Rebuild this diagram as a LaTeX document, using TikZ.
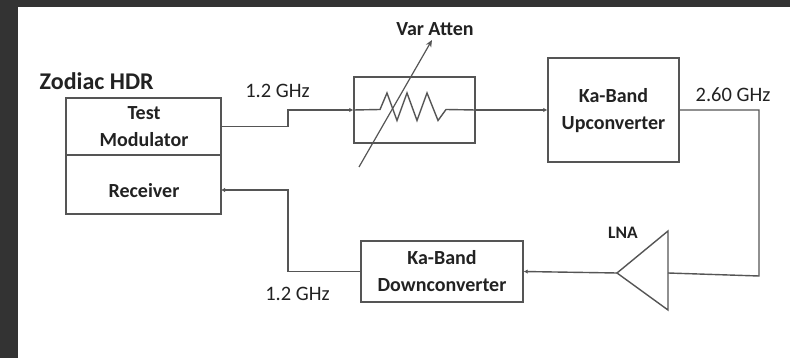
\documentclass[tikz,border=0pt]{standalone}
\usepackage{fontspec}
\setmainfont{Carlito}
\usetikzlibrary{arrows.meta}
\definecolor{frame}{HTML}{333333}
\definecolor{ln}{HTML}{555555}
\definecolor{tx}{HTML}{222222}
\tikzset{
  x=1pt,y=-1pt,
  blockbox/.style={draw=ln,line width=1.4pt,minimum width=#1,inner sep=0pt,fill=white},
  lbl/.style={text=tx,font=\fontsize{20.5}{20.5}\selectfont,inner sep=0pt},
  blbl/.style={text=tx,font=\fontsize{20}{27}\selectfont\bfseries,inner sep=0pt,align=center},
  wire/.style={draw=ln,line width=1.4pt},
  arrowwire/.style={wire,-{Latex[length=4pt,width=4.5pt]}},
}
\begin{document}
\begin{tikzpicture}
\useasboundingbox (0,0) rectangle (790,358);
\fill[frame] (0,0) rectangle (790,358);
\fill[white] (18,7) rectangle (790,358);
% blocks
\node[blockbox=155pt,minimum height=57pt] (tm) at (143.5,126.5) {};
\node[blockbox=155pt,minimum height=59pt] (rx) at (143.5,184.5) {};
\node[blockbox=121pt,minimum height=66pt] (att) at (414.5,110) {};
\node[blockbox=131pt,minimum height=104pt] (up) at (613.5,110) {};
\node[blockbox=162pt,minimum height=61pt] (down) at (442,271.5) {};
% block texts
\node[blbl] (tmt) at (144,127) {Test\\Modulator};
\node[blbl] (rxt) at (144,190.5) {Receiver};
\node[blbl] (upt) at (613.5,111) {Ka-Band\\Upconverter};
\node[blbl] (downt) at (442,271.5) {Ka-Band\\Downconverter};
% amplifier
\coordinate (lnatip) at (617,273);
\coordinate (lnatop) at (668,231);
\coordinate (lnabot) at (668,310);
\coordinate (lnain) at (668,273);
\draw[wire,line join=miter] (lnatip) -- (lnatop) -- (lnabot) -- cycle;
% resistor
\coordinate (resl) at (380,109.5);
\coordinate (resr) at (446,109.5);
\draw[wire,line join=miter] (att.west) -- (resl) -- (387,93) -- (397,120.5) -- (407,93) -- (417,120.5) -- (427,93) -- (438,120.5) -- (resr) -- (att.east);
% connectors
\coordinate (rxin) at (221,190);
\coordinate (turn) at (759,276);
\draw[arrowwire] (tm.east) -- (288,126.5) -- (288,110) -- (att.west);
\draw[arrowwire] (att.east) -- (up.west);
\draw[wire] (up.east) -- (759,110) -- (turn) -- (lnain);
\draw[arrowwire] (lnatip) -- (down.east);
\draw[arrowwire] (down.west) -- (288,271.5) -- (288,190) -- (rxin);
% variable arrow
\coordinate (vs) at (359,167);
\coordinate (ve) at (432,40);
\draw[draw=ln,line width=1.2pt,-{Stealth[length=7pt,width=6pt]}] (vs) -- (ve);
% labels
\node[text=tx,font=\fontsize{24}{24}\selectfont\bfseries,inner sep=0pt,anchor=west] (zod) at (39.5,81) {Zodiac HDR};
\node[lbl] (f1) at (277.5,91) {1.2 GHz};
\node[lbl] (f2) at (297.5,294) {1.2 GHz};
\node[lbl] (f3) at (733,95) {2.60 GHz};
\node[blbl] (va) at (435,29) {Var Atten};
\node[text=tx,font=\fontsize{17.5}{17.5}\selectfont\bfseries,inner sep=0pt] (lna) at (623,233) {LNA};
\end{tikzpicture}
\end{document}
